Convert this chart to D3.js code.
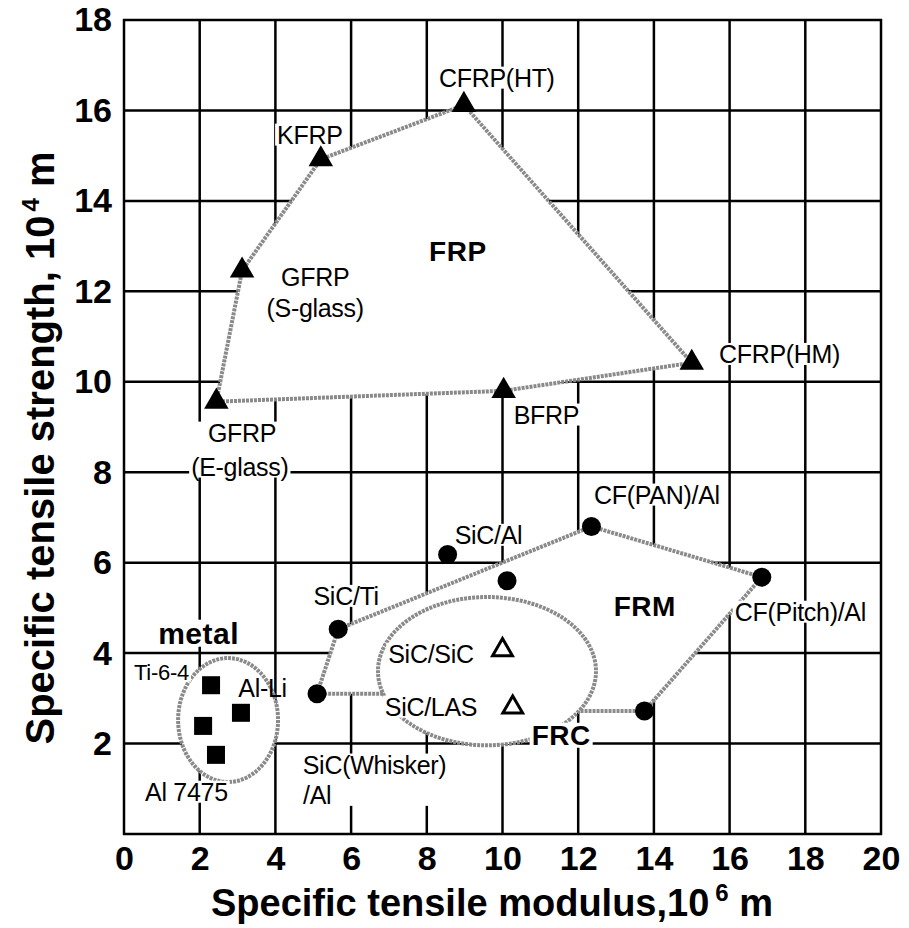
<!DOCTYPE html>
<html><head><meta charset="utf-8">
<script src="https://cdn.jsdelivr.net/npm/d3@7"></script>
<style>
html,body{margin:0;padding:0;background:#fff;}
svg{display:block;}
text{font-family:"Liberation Sans", Arial, Helvetica, sans-serif; fill:#000;}
</style></head><body>
<svg id="chart" width="909" height="928"></svg>
<script>
// ---------- data ----------
const xTicks = [0, 2, 4, 6, 8, 10, 12, 14, 16, 18, 20];
const yTicks = [2, 4, 6, 8, 10, 12, 14, 16, 18];

// FRP (filled triangles), listed in hull order
const frpNames    = ["GFRP(E-glass)", "GFRP(S-glass)", "KFRP", "CFRP(HT)", "CFRP(HM)", "BFRP"];
const frpModulus  = [2.44, 3.12, 5.2, 8.98, 15.0, 10.03];
const frpStrength = [9.56, 12.46, 14.92, 16.12, 10.42, 9.8];

// FRM (filled circles)
const frmNames    = ["SiC(Whisker)/Al", "SiC/Ti", "SiC/Al", "FRM (unlabelled)", "CF(PAN)/Al", "CF(Pitch)/Al", "FRM (unlabelled 2)"];
const frmModulus  = [5.1, 5.66, 8.55, 10.12, 12.35, 16.85, 13.75];
const frmStrength = [3.1, 4.53, 6.18, 5.6, 6.8, 5.68, 2.72];
const frmBoundary = [0, 1, 4, 5, 6]; // indices of points on the FRM outline

// FRC (open triangles)
const frcNames    = ["SiC/SiC", "SiC/LAS"];
const frcModulus  = [10.0, 10.27];
const frcStrength = [4.07, 2.8];

// metal (filled squares)
const metalNames    = ["Ti-6-4", "Al-Li", "metal (unlabelled)", "Al 7475"];
const metalModulus  = [2.3, 3.09, 2.09, 2.43];
const metalStrength = [3.29, 2.68, 2.39, 1.75];

// region ellipses: centre (modulus, strength) and radii in data units
const frcEllipse   = [9.59, 3.60, 2.88, 1.64];
const metalEllipse = [2.75, 2.52, 1.32, 1.37];

// ---------- layout ----------
const svg = d3.select("#chart");
const x = d3.scaleLinear().domain([0, 20]).range([124, 881]);
const y = d3.scaleLinear().domain([0, 18]).range([834, 20]);

// annotation layout (data-space anchors)
const labels = [
  {t:"CFRP(HT)", x:9.85, y:16.72},
  {t:"KFRP", x:4.91, y:15.46},
  {t:"GFRP", x:5.05, y:12.32},
  {t:"(S-glass)", x:5.05, y:11.63},
  {t:"FRP", x:8.82, y:12.89, b:true},
  {t:"GFRP", x:3.12, y:8.87, g:"E"},
  {t:"(E-glass)", x:3.06, y:8.12, g:"E"},
  {t:"BFRP", x:11.16, y:9.27},
  {t:"CFRP(HM)", x:17.32, y:10.61},
  {t:"CF(PAN)/Al", x:14.08, y:7.50},
  {t:"CF(Pitch)/Al", x:17.87, y:4.91},
  {t:"FRM", x:13.76, y:5.04, b:true},
  {t:"SiC/Al", x:9.63, y:6.61},
  {t:"SiC/Ti", x:5.87, y:5.26},
  {t:"SiC/SiC", x:8.11, y:3.98},
  {t:"SiC/LAS", x:8.11, y:2.81},
  {t:"FRC", x:11.55, y:2.19, b:true},
  {t:"SiC(Whisker)", x:6.62, y:1.53, g:"W"},
  {t:"/Al", x:4.73, y:0.86, g:"W", a:"start"},
  {t:"metal", x:1.97, y:4.44, b:true, fs:30},
  {t:"Ti-6-4", x:0.99, y:3.58, fs:22},
  {t:"Al-Li", x:3.66, y:3.23, nobg:true},
  {t:"Al 7475", x:1.65, y:0.93}
];

// ---------- grid & frame ----------
const grid = svg.append("g").attr("stroke", "#000").attr("stroke-width", 2.5);
grid.selectAll("line.v").data(xTicks).join("line").attr("class", "v")
  .attr("x1", d => x(d)).attr("x2", d => x(d)).attr("y1", y(18) - 1).attr("y2", y(0) + 1);
grid.selectAll("line.h").data([0].concat(yTicks)).join("line").attr("class", "h")
  .attr("x1", x(0) - 1).attr("x2", x(20) + 1).attr("y1", d => y(d)).attr("y2", d => y(d));

// ---------- axes labels ----------
const ax = svg.append("g").attr("transform", `translate(0,${y(0)})`)
  .call(d3.axisBottom(x).tickValues(xTicks).tickSize(0).tickPadding(12).tickFormat(d3.format("d")));
ax.select(".domain").remove();
ax.selectAll("text").attr("font-size", 34).attr("font-weight", "bold")
  .attr("font-family", '"Liberation Sans", Arial, sans-serif');

const ay = svg.append("g").attr("transform", `translate(${x(0)},0)`)
  .call(d3.axisLeft(y).tickValues(yTicks).tickSize(0).tickPadding(12).tickFormat(d3.format("d")));
ay.select(".domain").remove();
ay.selectAll("text").attr("font-size", 34).attr("font-weight", "bold")
  .attr("font-family", '"Liberation Sans", Arial, sans-serif');

// axis titles
const xt = svg.append("text").attr("x", 492).attr("y", 916).attr("text-anchor", "middle")
  .attr("font-size", 38).attr("font-weight", "bold");
xt.append("tspan").text("Specific tensile modulus,10");
xt.append("tspan").attr("dx", 6).attr("dy", -15).attr("font-size", 24).text("6");
xt.append("tspan").attr("dy", 15).text(" m");

const yt = svg.append("text").attr("transform", "translate(54,448) rotate(-90)").attr("text-anchor", "middle")
  .attr("font-size", 40).attr("font-weight", "bold");
yt.append("tspan").text("Specific tensile strength, 10");
yt.append("tspan").attr("dx", 4).attr("dy", -15).attr("font-size", 24).text("4");
yt.append("tspan").attr("dy", 15).text(" m");

// ---------- white region fills ----------
const frpPts = frpModulus.map((m, i) => [x(m), y(frpStrength[i])]);
const ell = (e) => ({cx: x(e[0]), cy: y(e[1]), rx: x(e[2]) - x(0), ry: y(0) - y(e[3])});
const fe = ell(frcEllipse), me = ell(metalEllipse);

// FRM outline: starts and ends on the FRC ellipse
function ellX(e, sv, side) {
  const dy = (sv - e[1]) / e[3];
  return e[0] + side * e[2] * Math.sqrt(Math.max(0, 1 - dy * dy));
}
const first = frmBoundary[0], last = frmBoundary[frmBoundary.length - 1];
const frmLine = [[ellX(frcEllipse, frmStrength[first], -1), frmStrength[first]]]
  .concat(frmBoundary.map(i => [frmModulus[i], frmStrength[i]]))
  .concat([[ellX(frcEllipse, frmStrength[last], 1), frmStrength[last]]])
  .map(p => [x(p[0]), y(p[1])]);

const fills = svg.append("g").attr("fill", "#fff").attr("stroke", "none");
fills.append("path").attr("d", d3.line()(frpPts) + "Z");
fills.append("path").attr("d", d3.line()(frmLine) + "Z");
fills.append("ellipse").attr("cx", fe.cx).attr("cy", fe.cy).attr("rx", fe.rx).attr("ry", fe.ry);
fills.append("ellipse").attr("cx", me.cx).attr("cy", me.cy).attr("rx", me.rx).attr("ry", me.ry);

// ---------- outlines (dotted grey) ----------
const outl = svg.append("g").attr("fill", "none").attr("stroke", "#8a8a8a").attr("stroke-width", 4)
  .attr("stroke-dasharray", "3 1").attr("stroke-linejoin", "round");
outl.append("path").attr("d", d3.line()(frpPts) + "Z");
outl.append("path").attr("d", d3.line()(frmLine));
outl.append("ellipse").attr("cx", fe.cx).attr("cy", fe.cy).attr("rx", fe.rx).attr("ry", fe.ry);
outl.append("ellipse").attr("cx", me.cx).attr("cy", me.cy).attr("rx", me.rx).attr("ry", me.ry);

// ---------- labels with white backgrounds ----------
const bgG = svg.append("g");
const txG = svg.append("g");
labels.forEach(l => {
  l.node = txG.append("text")
    .attr("x", x(l.x)).attr("y", y(l.y)).attr("dy", "0.35em")
    .attr("text-anchor", l.a || "middle")
    .attr("font-size", l.fs || (l.b ? 28 : 25))
    .attr("font-weight", l.b ? "bold" : "normal")
    .attr("letter-spacing", l.b ? 0.5 : -0.3)
    .text(l.t);
});
const groups = {};
labels.forEach((l, i) => {
  if (l.nobg) return;
  const bb = l.node.node().getBBox();
  const key = l.g || ("_" + i);
  const r = [bb.x, bb.y + 3, bb.x + bb.width, bb.y + bb.height - 3];
  if (!groups[key]) groups[key] = r;
  else {
    const g = groups[key];
    g[0] = Math.min(g[0], r[0]); g[1] = Math.min(g[1], r[1]);
    g[2] = Math.max(g[2], r[2]); g[3] = Math.max(g[3], r[3]);
  }
});
Object.values(groups).forEach(g => {
  bgG.append("rect").attr("x", g[0] - 2).attr("y", g[1]).attr("width", g[2] - g[0] + 4)
    .attr("height", g[3] - g[1]).attr("fill", "#fff");
});

// ---------- markers ----------
const mk = svg.append("g");
const tri = d3.symbol(d3.symbolTriangle, 260);
mk.selectAll("path.frp").data(frpModulus).join("path").attr("class", "frp")
  .attr("d", tri).attr("fill", "#000")
  .attr("transform", (d, i) => `translate(${x(d)},${y(frpStrength[i])})`);
mk.selectAll("circle.frm").data(frmModulus).join("circle").attr("class", "frm")
  .attr("cx", d => x(d)).attr("cy", (d, i) => y(frmStrength[i])).attr("r", 9.5).attr("fill", "#000");
mk.selectAll("path.frc").data(frcModulus).join("path").attr("class", "frc")
  .attr("d", d3.symbol(d3.symbolTriangle, 170)).attr("fill", "#fff").attr("stroke", "#000").attr("stroke-width", 3)
  .attr("stroke-linejoin", "miter")
  .attr("transform", (d, i) => `translate(${x(d)},${y(frcStrength[i])})`);
mk.selectAll("rect.metal").data(metalModulus).join("rect").attr("class", "metal")
  .attr("x", d => x(d) - 9).attr("y", (d, i) => y(metalStrength[i]) - 9)
  .attr("width", 18).attr("height", 18).attr("fill", "#000");
</script>
</body></html>
